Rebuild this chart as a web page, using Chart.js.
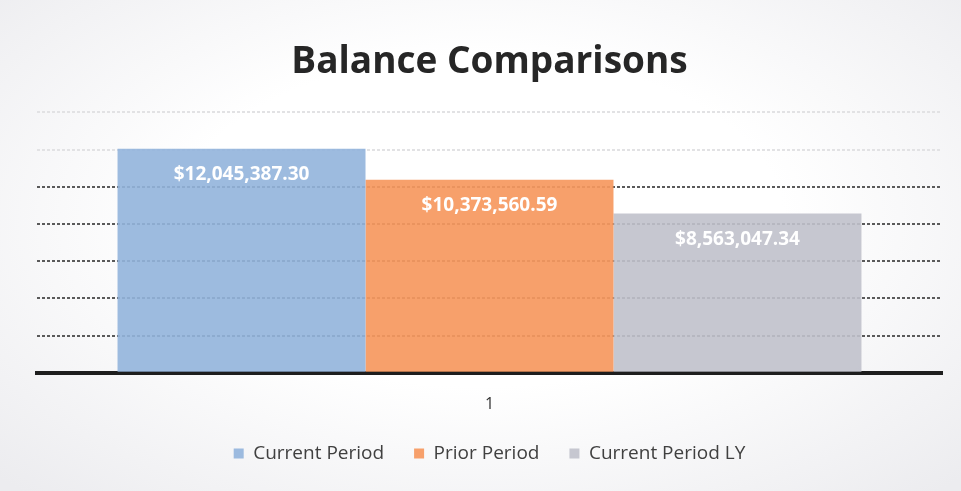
<!DOCTYPE html>
<html>
<head>
<meta charset="utf-8">
<script src="https://cdn.jsdelivr.net/npm/chart.js@4"></script>
<style>
  html, body { margin: 0; padding: 0; }
  body {
    width: 961px; height: 491px; overflow: hidden;
    background: radial-gradient(ellipse 70% 75% at 50% 45%, #ffffff 45%, #ececef 100%);
  }
  #wrap { width: 961px; height: 491px; }
</style>
</head>
<body>
<div id="wrap"><canvas id="chart" width="961" height="491"></canvas></div>
<script>
// --- Data ---
const categories = ['1'];
const seriesNames = ['Current Period', 'Prior Period', 'Current Period LY'];
const currentPeriod = [12045387.30];
const priorPeriod = [10373560.59];
const currentPeriodLY = [8563047.34];
const seriesColors = ['rgba(146,180,220,0.9)', 'rgba(246,152,94,0.92)', 'rgba(192,193,203,0.9)'];

const money = v => '$' + v.toLocaleString('en-US', { minimumFractionDigits: 2, maximumFractionDigits: 2 });

// white value labels just inside the top of each bar
const barLabels = {
  id: 'barLabels',
  afterDatasetsDraw(chart) {
    const ctx = chart.ctx;
    ctx.save();
    ctx.fillStyle = '#ffffff';
    ctx.font = 'bold 19px "Open Sans", sans-serif';
    ctx.textAlign = 'center';
    ctx.textBaseline = 'middle';
    chart.data.datasets.forEach((ds, i) => {
      chart.getDatasetMeta(i).data.forEach((bar, j) => {
        ctx.fillText(money(ds.data[j]), bar.x, bar.y + 26);
      });
    });
    ctx.restore();
  }
};

const datasets = [currentPeriod, priorPeriod, currentPeriodLY].map((d, i) => ({
  label: seriesNames[i],
  data: d,
  backgroundColor: seriesColors[i],
  borderWidth: 0
}));

new Chart(document.getElementById('chart'), {
  type: 'bar',
  data: { labels: categories, datasets },
  options: {
    responsive: false,
    animation: false,
    layout: { padding: { left: 37, right: 19, top: 14, bottom: 18 } },
    datasets: { bar: { categoryPercentage: 0.822, barPercentage: 1 } },
    plugins: {
      title: {
        display: true,
        text: 'Balance Comparisons',
        color: '#262626',
        font: { family: '"Open Sans", sans-serif', size: 37, weight: 'bold' },
        padding: { top: 26, bottom: 28 }
      },
      legend: {
        position: 'bottom',
        labels: {
          color: '#404040',
          font: { family: '"Open Sans", sans-serif', size: 19 },
          boxWidth: 10, boxHeight: 10, padding: 30
        }
      },
      tooltip: { enabled: false }
    },
    scales: {
      x: {
        grid: { display: false },
        border: { display: true, color: '#1e1e1e', width: 4 },
        ticks: { color: '#333', font: { family: '"Open Sans", sans-serif', size: 16 }, padding: 14 },
        afterFit: s => { s.height -= 14; }
      },
      y: {
        min: 0, max: 14000000,
        ticks: { display: false, stepSize: 2000000 },
        border: { display: false, dash: [3, 2] },
        grid: {
          drawTicks: false,
          lineWidth: 2,
          color: c => c.tick && c.tick.value >= 12000000 ? '#e2e2e4' : '#5a5a5a'
        }
      }
    }
  },
  plugins: [barLabels]
});
</script>
</body>
</html>
